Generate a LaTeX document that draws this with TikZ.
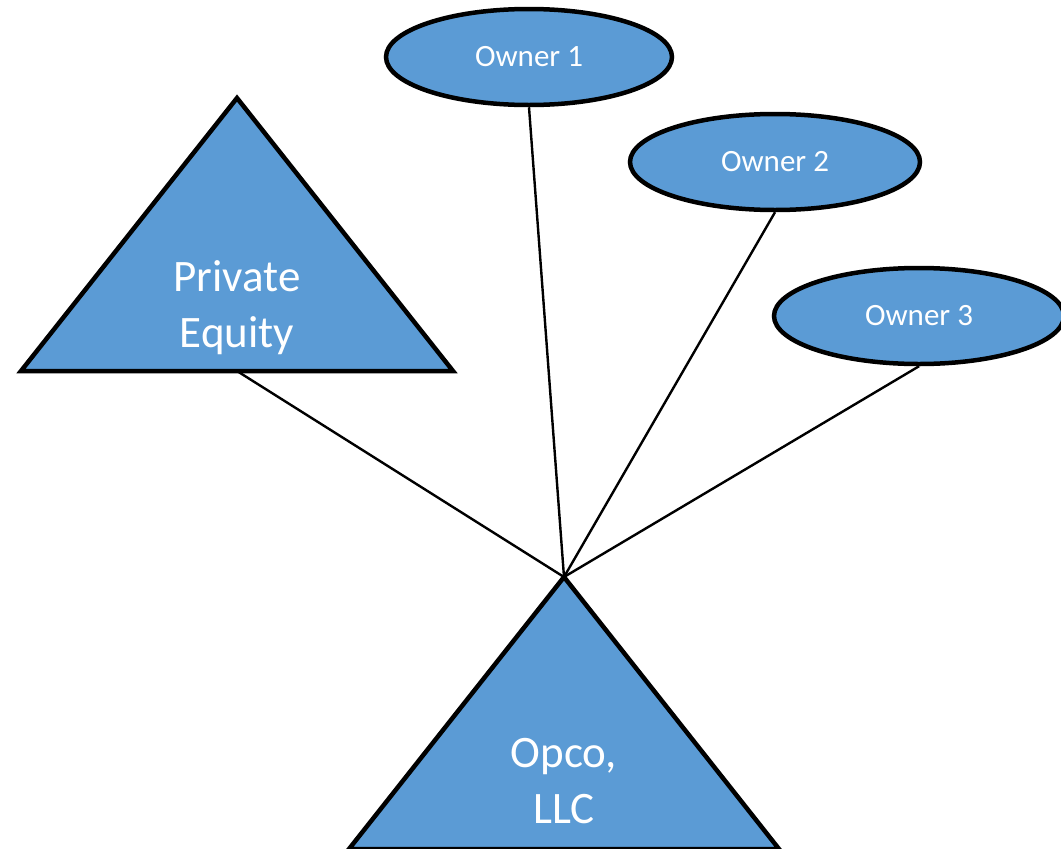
\documentclass[tikz,border=0pt]{standalone}
\usepackage{fontspec}
\setmainfont{Carlito}
\usetikzlibrary{shapes.geometric}
\definecolor{ofblue}{HTML}{5B9BD5}
\begin{document}
\begin{tikzpicture}[x=1pt,y=-1pt,
  owner/.style={ellipse,draw=black,line width=4.5pt,fill=ofblue,minimum width=286pt,minimum height=96pt,inner sep=0pt,text=white,font=\fontsize{31}{37}\selectfont},
  tri/.style={draw=black,line width=4.5pt,fill=ofblue,line join=miter},
  link/.style={draw=black,line width=2.4pt},
  biglbl/.style={text=white,align=center,font=\fontsize{45}{56}\selectfont,inner sep=0pt}]
\useasboundingbox (0,0) rectangle (1061,849);
% Private Equity triangle
\coordinate (peA) at (237,98);
\coordinate (peL) at (21,371);
\coordinate (peR) at (453,371);
\coordinate (peB) at (237,371);
\draw[tri] (peA) -- (peR) -- (peL) -- cycle;
\node[biglbl] (pe) at (237,308) {Private\\Equity};
% Opco triangle
\coordinate (opA) at (564,577);
\coordinate (opL) at (349,849);
\coordinate (opR) at (779,849);
\draw[tri] (opA) -- (opR) -- (opL) -- cycle;
\node[biglbl] (op) at (564,781) {Opco,\\LLC};
% Owners
\node[owner] (o1) at (529,57) {Owner 1};
\node[owner,minimum width=290pt] (o2) at (775,162) {Owner 2};
\node[owner,minimum width=290pt] (o3) at (919,316) {Owner 3};
% Connectors
\draw[link] (peB) -- (opA);
\draw[link] (o1.south) -- (opA);
\draw[link] (o2.south) -- (opA);
\draw[link] (o3.south) -- (opA);
\end{tikzpicture}
\end{document}
